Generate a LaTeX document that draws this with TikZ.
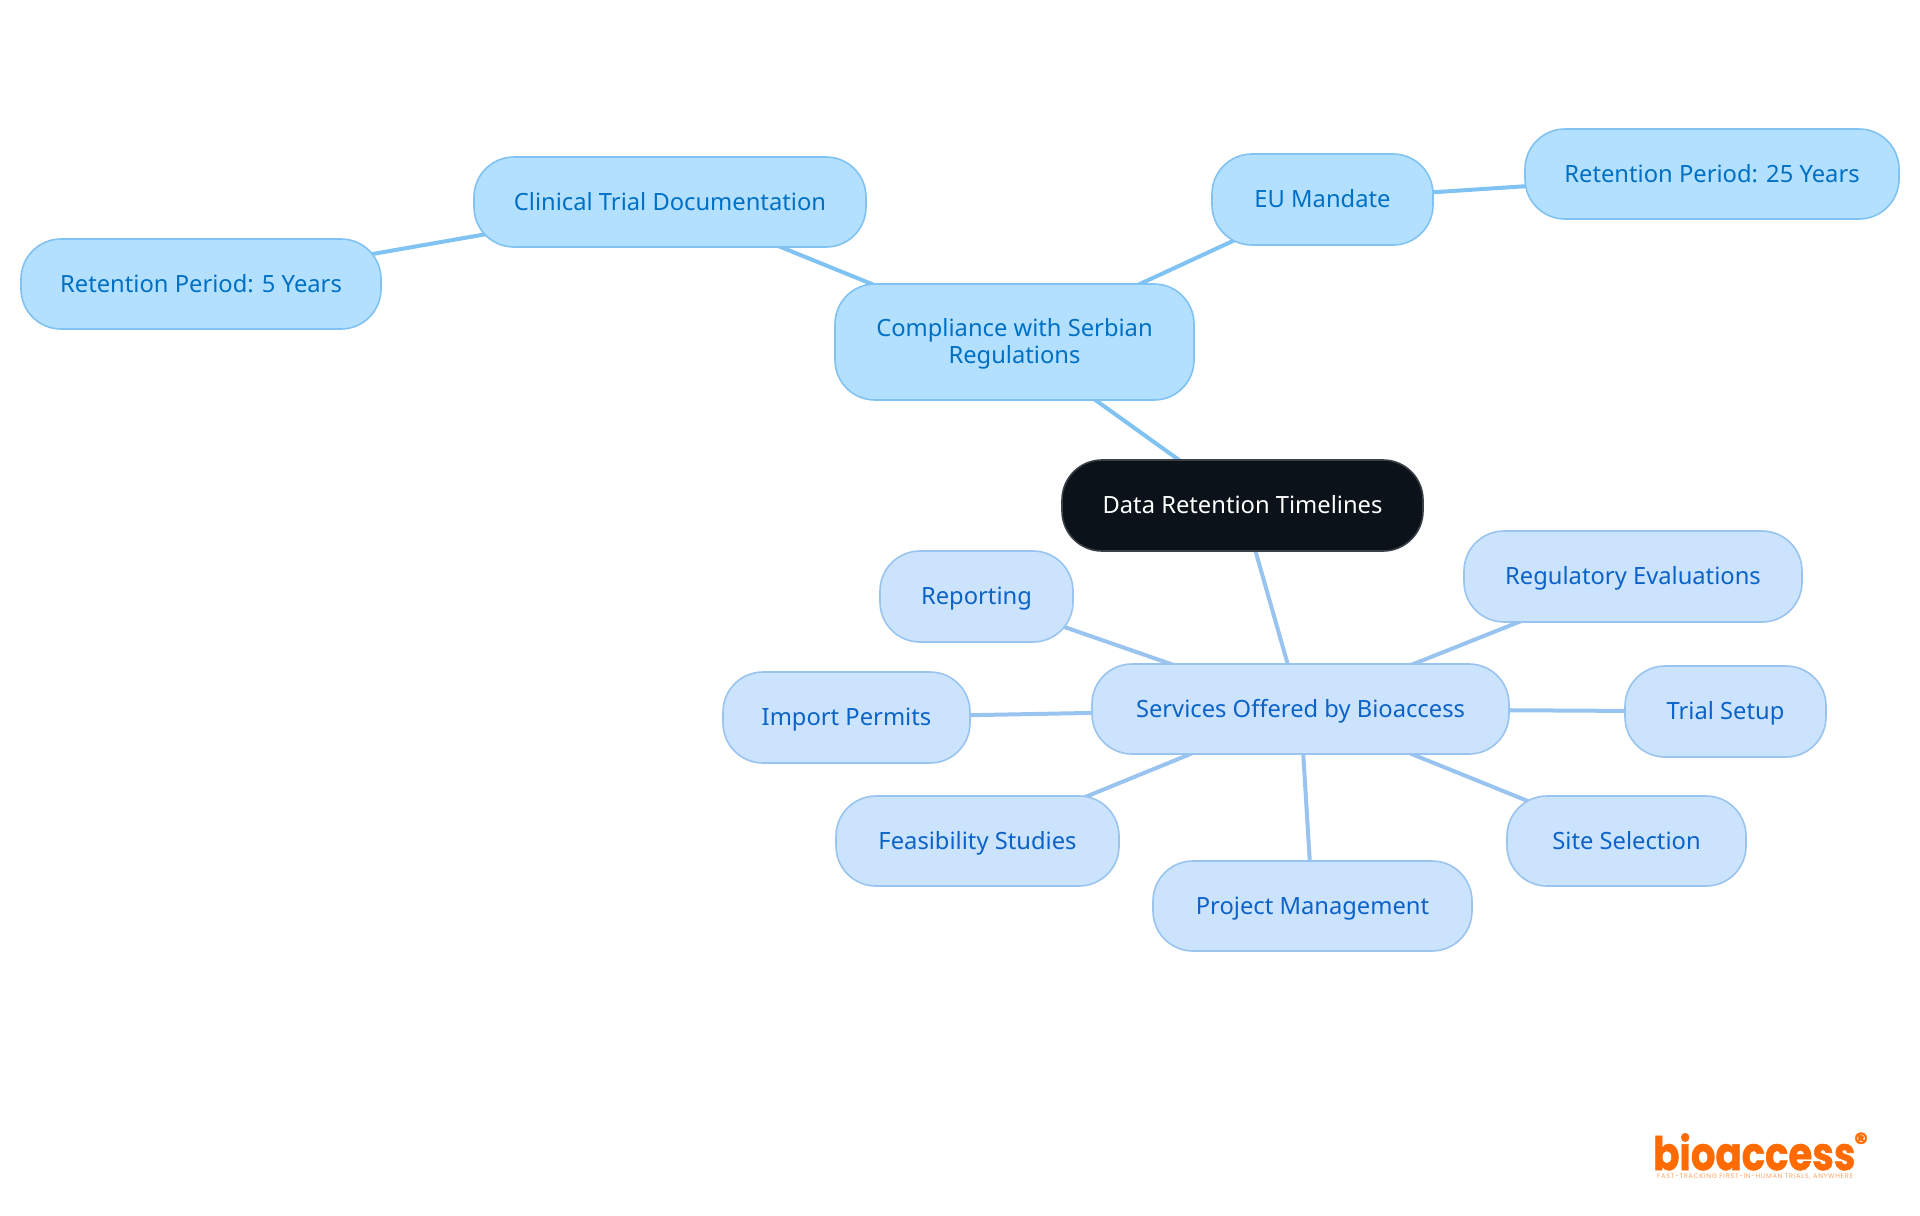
\documentclass[tikz,border=0pt]{standalone}
\usepackage{fontspec}
\setmainfont{Noto Sans}
\newfontfamily\logofont[BoldFeatures={FakeBold=1.2}]{Poppins}
\newfontfamily\logotagfont[LetterSpace=10]{Poppins}
\usetikzlibrary{backgrounds}
\definecolor{rootfill}{HTML}{0B121A}
\definecolor{rootline}{HTML}{3A4048}
\definecolor{bluefill}{HTML}{B3E0FF}
\definecolor{blueline}{HTML}{80C2F2}
\definecolor{bluetext}{HTML}{0070C4}
\definecolor{palefill}{HTML}{CCE3FD}
\definecolor{paleline}{HTML}{9AC4F0}
\definecolor{paletext}{HTML}{0B63C9}
\definecolor{logoorange}{HTML}{FF6B00}
\tikzset{
  x=0.75pt,y=-0.75pt,
  mapbox/.style={rounded corners=30pt,line width=1.2pt,inner sep=0pt,align=center,
    text height=14.6pt,text depth=2pt,
    font=\fontsize{17.8pt}{20pt}\selectfont},
  tallbox/.style={text height=34pt,text depth=2pt},
  rootbox/.style={mapbox,fill=rootfill,draw=rootline,text=white},
  bluebox/.style={mapbox,fill=bluefill,draw=blueline,text=bluetext},
  palebox/.style={mapbox,fill=palefill,draw=paleline,text=paletext},
  bluelink/.style={draw=blueline,line width=3pt},
  palelink/.style={draw=paleline,line width=3pt},
}
\newcommand{\mapnode}[7]{%
  \pgfmathsetmacro{\mx}{(#3+#5)/2}\pgfmathsetmacro{\my}{(#4+#6)/2}%
  \pgfmathsetmacro{\mw}{(#5-#3)*0.75}\pgfmathsetmacro{\mh}{(#6-#4)*0.75}%
  \node[#2,minimum width=\mw pt,minimum height=\mh pt] (#1) at (\mx,\my) {#7};}
\begin{document}
\begin{tikzpicture}
\useasboundingbox (0,0) rectangle (1920,1215);
\mapnode{root}{rootbox}{1062}{460}{1423}{551}{Data Retention Timelines}
\mapnode{comp}{bluebox,tallbox}{835}{284}{1194}{400}{Compliance with Serbian\\Regulations}
\mapnode{clin}{bluebox}{474}{157}{866}{247}{Clinical Trial Documentation}
\mapnode{ret5}{bluebox}{21}{239}{381}{329}{Retention Period: 5 Years}
\mapnode{eu}{bluebox}{1212}{154}{1433}{245}{EU Mandate}
\mapnode{ret25}{bluebox}{1525}{129}{1899}{219}{Retention Period: 25 Years}
\mapnode{serv}{palebox}{1092}{664}{1509}{754}{Services Offered by Bioaccess}
\mapnode{repo}{palebox}{880}{551}{1073}{642}{Reporting}
\mapnode{regu}{palebox}{1464}{531}{1802}{622}{Regulatory Evaluations}
\mapnode{impo}{palebox}{723}{672}{970}{763}{Import Permits}
\mapnode{tria}{palebox}{1625}{666}{1826}{757}{Trial Setup}
\mapnode{feas}{palebox}{836}{796}{1119}{886}{Feasibility Studies}
\mapnode{proj}{palebox}{1153}{861}{1472}{951}{Project Management}
\mapnode{site}{palebox}{1507}{796}{1746}{886}{Site Selection}
\begin{scope}[on background layer]
\fill[white] (0,0) rectangle (1920,1215);
\draw[bluelink] (root.center) -- (comp.center);
\draw[bluelink] (comp.center) -- (clin.center);
\draw[bluelink] (clin.center) -- (ret5.center);
\draw[bluelink] (comp.center) -- (eu.center);
\draw[bluelink] (eu.center) -- (ret25.center);
\draw[palelink] (root.center) -- (serv.center);
\draw[palelink] (serv.center) -- (repo.center);
\draw[palelink] (serv.center) -- (regu.center);
\draw[palelink] (serv.center) -- (impo.center);
\draw[palelink] (serv.center) -- (tria.center);
\draw[palelink] (serv.center) -- (feas.center);
\draw[palelink] (serv.center) -- (proj.center);
\draw[palelink] (serv.center) -- (site.center);
\end{scope}
\node[anchor=base west,inner sep=0pt,xscale=0.84,text=logoorange,font=\logofont\bfseries\fontsize{34.5pt}{34.5pt}\selectfont] (logo) at (1653,1170) {bioaccess};
\node[inner sep=0pt,text=logoorange,font=\logofont\bfseries\fontsize{20pt}{20pt}\selectfont] (logomark) at (1861,1142) {®};
\node[inner sep=0pt,text=logoorange!60,font=\logotagfont\fontsize{5pt}{5pt}\selectfont] (logotag) at (1755,1177) {FAST-TRACKING FIRST-IN-HUMAN TRIALS, ANYWHERE};
\end{tikzpicture}
\end{document}
